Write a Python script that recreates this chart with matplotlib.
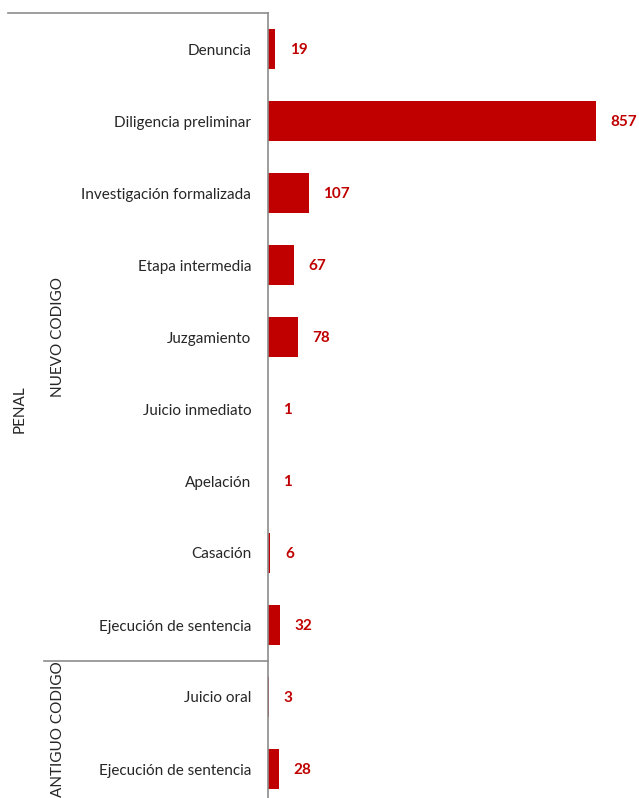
import matplotlib.pyplot as plt
import matplotlib.transforms as mtransforms
from matplotlib.lines import Line2D

# datos
etapas = ["Denuncia", "Diligencia preliminar", "Investigación formalizada",
          "Etapa intermedia", "Juzgamiento", "Juicio inmediato", "Apelación",
          "Casación", "Ejecución de sentencia", "Juicio oral", "Ejecución de sentencia"]
valores = [19, 857, 107, 67, 78, 1, 1, 6, 32, 3, 28]
grupos = ["NUEVO CODIGO", "ANTIGUO CODIGO"]
grupo_tam = [9, 2]
nivel_sup = "PENAL"

ROJO = "#C00000"
GRIS = "#8C8C8C"

plt.rcParams["font.family"] = ["Lato", "DejaVu Sans"]

W, H = 639, 798
fig = plt.figure(figsize=(W / 100, H / 100), dpi=100)
x0, top, bottom, right = 268, 13, 805, 639
ax = fig.add_axes([x0 / W, 1 - bottom / H, (right - x0) / W, (bottom - top) / H])

y = list(range(len(etapas)))
ax.barh(y, valores, height=0.56, color=ROJO)
ax.set_ylim(len(etapas) - 0.5, -0.5)
ax.set_xlim(0, (right - x0) / 0.3827)

for yi, v in zip(y, valores):
    ax.annotate(str(v), (v, yi), xytext=(10.5, -0.5), textcoords="offset points",
                va="center", ha="left", color=ROJO, fontweight="bold", fontsize=11)

ax.set_yticks(y)
ax.set_yticklabels(etapas, fontsize=11, color="#262626")
ax.tick_params(axis="y", length=0, pad=12)
ax.set_xticks([])
for s in ["top", "right", "bottom"]:
    ax.spines[s].set_visible(False)
ax.spines["left"].set_color(GRIS)
ax.spines["left"].set_linewidth(1.2)

# lineas de agrupacion
tr = mtransforms.blended_transform_factory(fig.transFigure, ax.transData)
fig.add_artist(Line2D([8 / W, x0 / W], [-0.5, -0.5], transform=tr, color=GRIS, lw=1.2))
sep = grupo_tam[0] - 0.5
fig.add_artist(Line2D([44 / W, x0 / W], [sep, sep], transform=tr, color=GRIS, lw=1.2))

# etiquetas de grupo
inicio = 0
for g, n in zip(grupos, grupo_tam):
    centro = inicio + (n - 1) / 2
    if inicio > 0:
        centro -= 0.06  # que quepa en el borde inferior
    fig.text(58 / W, centro, g, transform=tr, rotation=90, ha="center", va="center",
             fontsize=11, color="#262626")
    inicio += n
fig.text(20 / W, (len(etapas) - 1) / 2, nivel_sup, transform=tr, rotation=90,
         ha="center", va="center", fontsize=11, color="#262626")

fig.savefig("out.png", dpi=100)
